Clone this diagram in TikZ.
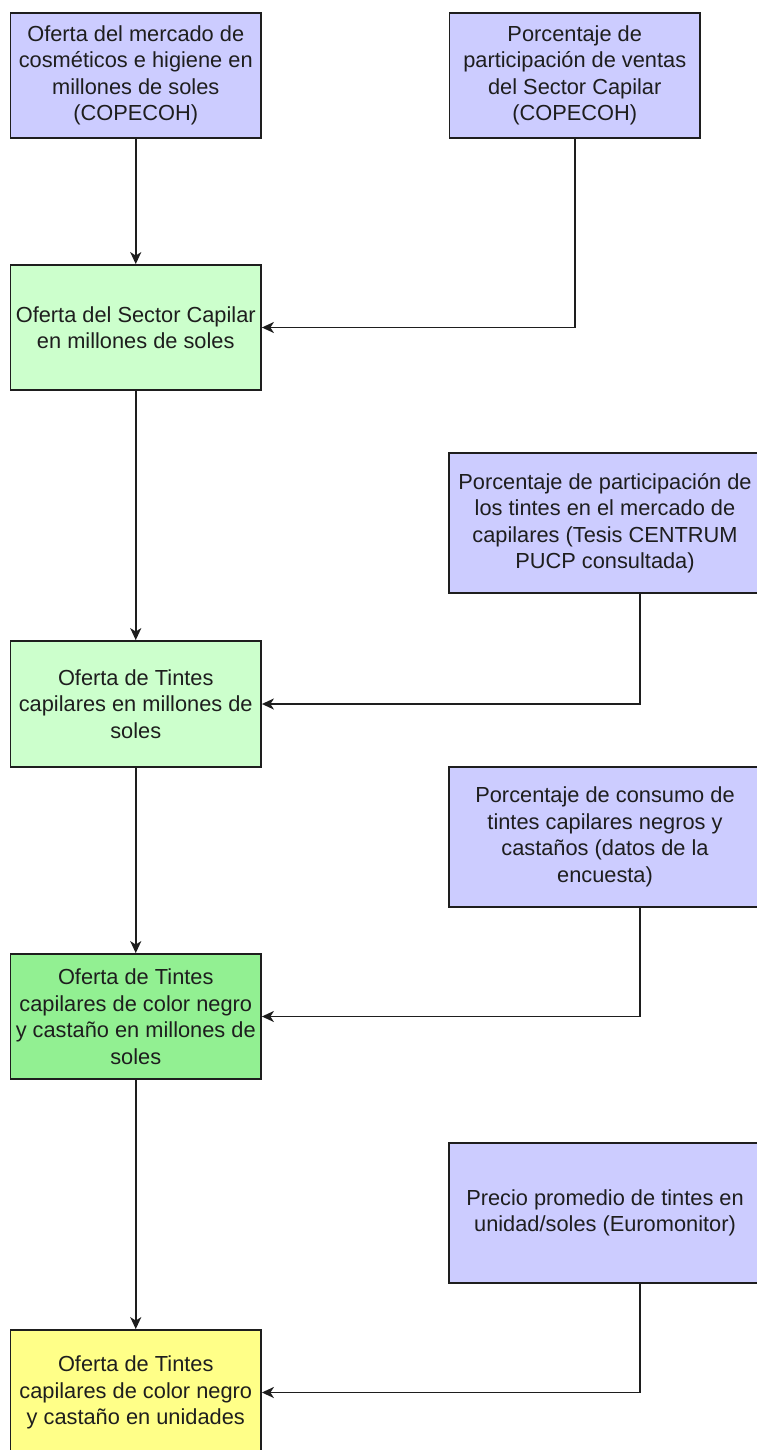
\documentclass[tikz,border=0pt]{standalone}
\usepackage{fontspec}
\setmainfont{Liberation Sans}
\usetikzlibrary{arrows.meta}

\definecolor{srcblue}{RGB}{204,204,255}
\definecolor{palegreen}{RGB}{204,255,204}
\definecolor{midgreen}{RGB}{146,240,146}
\definecolor{paleyellow}{RGB}{255,255,136}
\definecolor{inkgray}{RGB}{30,30,30}

\tikzset{
  box/.style={draw=inkgray, line width=1.8pt, rectangle, align=center,
    inner sep=0pt, text=inkgray,
    font=\fontsize{21.8}{26.5}\selectfont},
  leftbox/.style={box, minimum width=250.5pt, minimum height=125pt},
  rightbox/.style={box, minimum width=312pt, minimum height=140pt, fill=srcblue},
  link/.style={draw=inkgray, line width=1.8pt,
    -{Stealth[length=12pt, width=11pt, inset=3.5pt]}}
}

\begin{document}
\begin{tikzpicture}[x=1pt, y=-1pt]
  \useasboundingbox (0,0) rectangle (756,1450);
  \fill[white] (0,0) rectangle (756,1450);

  % sources and results, top to bottom
  \node[leftbox, fill=srcblue] (b1) at (135.75,75.5)
    {Oferta del mercado de\\cosméticos e higiene en\\millones de soles\\(COPECOH)};
  \node[leftbox, fill=srcblue] (b2) at (574.75,75.5)
    {Porcentaje de\\participación de ventas\\del Sector Capilar\\(COPECOH)};
  \node[leftbox, fill=palegreen] (b3) at (135.75,327.5)
    {Oferta del Sector Capilar\\en millones de soles};
  \node[rightbox] (b4) at (605,523)
    {Porcentaje de participación de\\los tintes en el mercado de\\capilares (Tesis CENTRUM\\PUCP consultada)};
  \node[leftbox, fill=palegreen, minimum height=126pt] (b5) at (135.75,704)
    {Oferta de Tintes\\capilares en millones de\\soles};
  \node[rightbox] (b6) at (605,837)
    {Porcentaje de consumo de\\tintes capilares negros y\\castaños (datos de la\\encuesta)};
  \node[leftbox, fill=midgreen] (b7) at (135.75,1016.5)
    {Oferta de Tintes\\capilares de color negro\\y castaño en millones de\\soles};
  \node[rightbox] (b8) at (605,1213)
    {Precio promedio de tintes en\\unidad/soles (Euromonitor)};
  \node[leftbox, fill=paleyellow] (b9) at (135.75,1392.5)
    {Oferta de Tintes\\capilares de color negro\\y castaño en unidades};

  % exit points of the side inputs
  \coordinate (e4) at ([xshift=35pt]b4.south);
  \coordinate (e6) at ([xshift=35pt]b6.south);
  \coordinate (e8) at ([xshift=35pt]b8.south);

  % main chain
  \draw[link] (b1.south) -- (b3.north);
  \draw[link] (b3.south) -- (b5.north);
  \draw[link] (b5.south) -- (b7.north);
  \draw[link] (b7.south) -- (b9.north);

  % side inputs
  \draw[link] (b2.south) |- (b3.east);
  \draw[link] (e4) |- (b5.east);
  \draw[link] (e6) |- (b7.east);
  \draw[link] (e8) |- (b9.east);
\end{tikzpicture}
\end{document}
